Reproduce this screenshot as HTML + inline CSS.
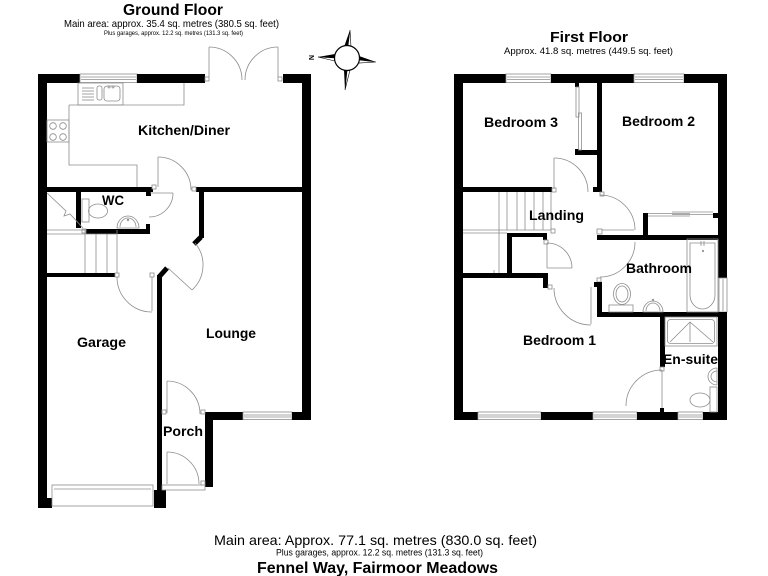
<!DOCTYPE html>
<html>
<head>
<meta charset="utf-8">
<style>
html,body{margin:0;padding:0;background:#fff;}
svg{display:block;}
text{font-family:"Liberation Sans",Arial,sans-serif;fill:#000;}
.b{font-weight:bold;}
.g{fill:none;stroke:#8c8c8c;stroke-width:0.8;}
.gw{fill:#fff;stroke:#8c8c8c;stroke-width:0.8;}
.k{fill:#000;}
</style>
</head>
<body>
<svg width="768" height="576" viewBox="0 0 768 576" xmlns="http://www.w3.org/2000/svg">
<rect width="768" height="576" fill="#fff"/>

<!-- ===== TITLES ===== -->
<text class="b" x="123" y="15" font-size="16" textLength="100" lengthAdjust="spacingAndGlyphs">Ground Floor</text>
<text x="64" y="27" font-size="10.5" textLength="215" lengthAdjust="spacingAndGlyphs">Main area: approx. 35.4 sq. metres (380.5 sq. feet)</text>
<text x="104" y="35" font-size="6" textLength="139" lengthAdjust="spacingAndGlyphs">Plus garages, approx. 12.2 sq. metres (131.3 sq. feet)</text>

<text class="b" x="550" y="42" font-size="15" textLength="78" lengthAdjust="spacingAndGlyphs">First Floor</text>
<text x="504" y="54" font-size="9.5" textLength="169" lengthAdjust="spacingAndGlyphs">Approx. 41.8 sq. metres (449.5 sq. feet)</text>

<text x="214" y="545" font-size="14" textLength="323" lengthAdjust="spacingAndGlyphs">Main area: Approx. 77.1 sq. metres (830.0 sq. feet)</text>
<text x="276" y="555.5" font-size="9" textLength="207" lengthAdjust="spacingAndGlyphs">Plus garages, approx. 12.2 sq. metres (131.3 sq. feet)</text>
<text class="b" x="257" y="573" font-size="16" textLength="241" lengthAdjust="spacingAndGlyphs">Fennel Way, Fairmoor Meadows</text>

<!-- ===== COMPASS ===== -->
<g>
  <polygon points="350,30 344,47 348,46" fill="#000"/>
  <polygon points="350,30 348,46 351,47" fill="#fff" stroke="#000" stroke-width="0.6"/>
  <polygon points="345,90 344,70 347,71" fill="#000"/>
  <polygon points="345,90 347,71 350,70" fill="#fff" stroke="#000" stroke-width="0.6"/>
  <polygon points="318,57 335,54 335,58" fill="#000"/>
  <polygon points="318,57 335,58 335,61" fill="#fff" stroke="#000" stroke-width="0.6"/>
  <polygon points="376,62 359,56 359,60" fill="#000"/>
  <polygon points="376,62 359,60 359,63" fill="#fff" stroke="#000" stroke-width="0.6"/>
  <circle cx="347" cy="58" r="12.5" fill="#fff" stroke="#000" stroke-width="1.2"/>
  <text class="b" x="0" y="0" font-size="7" transform="translate(309,55) rotate(90)">N</text>
</g>

<!-- ===== GROUND FLOOR ===== -->
<!-- top wall -->
<rect class="k" x="38" y="74" width="42" height="9"/>
<rect class="gw" x="80" y="74" width="57" height="8.5"/>
<line class="g" x1="81" y1="77" x2="136" y2="77"/>
<line class="g" x1="81" y1="79.5" x2="136" y2="79.5"/>
<rect class="k" x="137" y="74" width="68" height="9"/>
<rect class="k" x="283" y="74" width="28" height="9"/>
<!-- French doors -->
<rect class="gw" x="205" y="77" width="4" height="4"/>
<rect class="gw" x="278" y="77" width="4" height="4"/>
<line class="g" x1="209" y1="47" x2="209" y2="77"/>
<path class="g" d="M209,47 A33,33 0 0 1 242,80"/>
<line class="g" x1="278" y1="47" x2="278" y2="77"/>
<path class="g" d="M278,47 A33,33 0 0 0 245,80"/>
<!-- outer walls -->
<rect class="k" x="38" y="74" width="9" height="434"/>
<rect class="k" x="47" y="498" width="5" height="10"/>
<rect class="k" x="302" y="74" width="9" height="346"/>
<!-- kitchen worktops -->
<path class="g" d="M69,105 H184 V83"/>
<path class="g" d="M69,105 V165 H137 V187"/>
<rect class="g" x="78" y="83" width="45" height="22"/>
<g class="g">
  <line x1="82" y1="88" x2="94" y2="88"/>
  <line x1="82" y1="91" x2="94" y2="91"/>
  <line x1="82" y1="94" x2="94" y2="94"/>
  <line x1="82" y1="97" x2="94" y2="97"/>
  <line x1="82" y1="100" x2="94" y2="100"/>
  <rect x="97" y="86" width="5" height="14" rx="2"/>
  <rect x="104" y="86" width="16" height="15" rx="3"/>
  <circle cx="109" cy="87" r="1"/>
  <circle cx="113" cy="87" r="1"/>
</g>
<rect class="g" x="47" y="120" width="22" height="22"/>
<g class="g">
  <circle cx="53" cy="126" r="3.3"/>
  <circle cx="63" cy="126" r="3.3"/>
  <circle cx="53" cy="137" r="3.3"/>
  <circle cx="63" cy="137" r="3.3"/>
</g>
<!-- kitchen / hall wall -->
<rect class="k" x="46" y="187" width="107" height="5"/>
<rect class="k" x="146" y="187" width="5" height="9"/>
<rect class="k" x="196" y="187" width="106" height="5"/>
<rect class="gw" x="152" y="185" width="4" height="4"/>
<rect class="gw" x="192" y="187" width="4" height="4"/>
<!-- kitchen door -->
<line class="g" x1="158" y1="157" x2="158" y2="187"/>
<path class="g" d="M158,157 A33,33 0 0 1 191,190"/>
<!-- lounge left wall -->
<rect class="k" x="199" y="190" width="5" height="48"/>
<line x1="201" y1="237" x2="194" y2="244" stroke="#000" stroke-width="5"/>
<!-- lounge door -->
<line class="g" x1="168" y1="268" x2="192" y2="290"/>
<path class="g" d="M192,290 A34,34 0 0 0 195,243"/>
<!-- WC -->
<rect class="k" x="76" y="192" width="5" height="36"/>
<rect class="k" x="86" y="229" width="64" height="5"/>
<rect class="k" x="146" y="224" width="4" height="10"/>
<rect class="gw" x="82" y="229" width="4" height="4"/>
<line class="g" x1="150" y1="193" x2="173" y2="193"/>
<path class="g" d="M173,193 A24,24 0 0 1 149,217"/>
<rect class="g" x="82" y="199" width="7" height="23"/>
<ellipse class="g" cx="98" cy="211" rx="9.5" ry="7"/>
<path class="g" d="M117,228 A11,12 0 0 1 139,228 Z"/>
<path class="g" d="M120,227 A8,9 0 0 1 136,227"/>
<circle class="g" cx="128" cy="220" r="0.8"/>
<text class="b" x="102" y="205" font-size="14" textLength="22" lengthAdjust="spacingAndGlyphs">WC</text>
<!-- ground stairs -->
<polyline class="g" points="47,193 66,211 64,216 70,214 83,228"/>
<line class="g" x1="47" y1="230" x2="85" y2="230"/>
<line class="g" x1="47" y1="234" x2="85" y2="234"/>
<line class="g" x1="85" y1="234" x2="117" y2="234"/>
<line class="g" x1="85" y1="229" x2="85" y2="273"/>
<line class="g" x1="96" y1="234" x2="96" y2="273"/>
<line class="g" x1="107" y1="234" x2="107" y2="273"/>
<line class="g" x1="117" y1="230" x2="117" y2="273"/>
<rect class="k" x="46" y="273" width="69" height="4"/>
<rect class="gw" x="115" y="273" width="4" height="4"/>
<!-- garage/hall door -->
<rect class="gw" x="150" y="273" width="4" height="4"/>
<line class="g" x1="152" y1="277" x2="152" y2="311"/>
<path class="g" d="M117,277 A35,35 0 0 0 152,312"/>
<!-- garage right wall -->
<rect class="k" x="157" y="275" width="5" height="215"/>
<line x1="159" y1="277" x2="167" y2="268" stroke="#000" stroke-width="5"/>
<rect class="k" x="154" y="490" width="12" height="18"/>
<!-- garage door -->
<rect class="gw" x="52" y="485" width="101" height="21"/>
<line class="g" x1="54" y1="489" x2="151" y2="489"/>
<!-- lounge bottom wall -->
<rect class="k" x="205" y="412" width="38" height="8"/>
<rect class="gw" x="243" y="412" width="49" height="7.5"/>
<line class="g" x1="244" y1="415" x2="291" y2="415"/>
<line class="g" x1="244" y1="417" x2="291" y2="417"/>
<rect class="k" x="292" y="412" width="19" height="8"/>
<!-- porch -->
<rect class="k" x="205" y="412" width="8" height="75"/>
<rect class="gw" x="162" y="410" width="4" height="4"/>
<rect class="gw" x="201" y="410" width="4" height="4"/>
<line class="g" x1="167" y1="381" x2="167" y2="413"/>
<path class="g" d="M167,381 A33,33 0 0 1 200,414"/>
<line class="g" x1="167" y1="452" x2="167" y2="484"/>
<path class="g" d="M167,452 A32,32 0 0 1 199,484"/>
<rect class="gw" x="162" y="485" width="43" height="5"/>
<rect class="gw" x="201" y="481" width="4" height="4"/>

<!-- ground labels -->
<text class="b" x="138" y="135" font-size="14" textLength="92" lengthAdjust="spacingAndGlyphs">Kitchen/Diner</text>
<text class="b" x="206" y="338" font-size="14" textLength="50" lengthAdjust="spacingAndGlyphs">Lounge</text>
<text class="b" x="77" y="347" font-size="14" textLength="49" lengthAdjust="spacingAndGlyphs">Garage</text>
<text class="b" x="163" y="436" font-size="14" textLength="40" lengthAdjust="spacingAndGlyphs">Porch</text>

<!-- ===== FIRST FLOOR ===== -->
<!-- top wall -->
<rect class="k" x="454" y="74" width="52" height="9"/>
<rect class="gw" x="506" y="74" width="45" height="8.5"/>
<line class="g" x1="507" y1="77" x2="550" y2="77"/>
<line class="g" x1="507" y1="79.5" x2="550" y2="79.5"/>
<rect class="k" x="551" y="74" width="83" height="9"/>
<rect class="gw" x="634" y="74" width="50" height="8.5"/>
<line class="g" x1="635" y1="77" x2="683" y2="77"/>
<line class="g" x1="635" y1="79.5" x2="683" y2="79.5"/>
<rect class="k" x="684" y="74" width="43" height="9"/>
<!-- outer walls -->
<rect class="k" x="454" y="74" width="9" height="346"/>
<rect class="k" x="718" y="74" width="9" height="204"/>
<rect class="gw" x="719" y="278" width="8" height="34"/>
<line class="g" x1="723" y1="279" x2="723" y2="311"/>
<rect class="k" x="718" y="312" width="9" height="108"/>
<!-- bottom wall -->
<rect class="k" x="454" y="412" width="24" height="8"/>
<rect class="gw" x="478" y="412" width="63" height="7.5"/>
<line class="g" x1="479" y1="415" x2="540" y2="415"/>
<line class="g" x1="479" y1="417" x2="540" y2="417"/>
<rect class="k" x="541" y="412" width="52" height="8"/>
<rect class="gw" x="593" y="412" width="44" height="7.5"/>
<line class="g" x1="594" y1="415" x2="636" y2="415"/>
<line class="g" x1="594" y1="417" x2="636" y2="417"/>
<rect class="k" x="637" y="412" width="41" height="8"/>
<rect class="gw" x="678" y="412" width="25" height="7.5"/>
<line class="g" x1="679" y1="415" x2="702" y2="415"/>
<line class="g" x1="679" y1="417" x2="702" y2="417"/>
<rect class="k" x="703" y="412" width="24" height="8"/>

<!-- bedroom 2/3 wall & wardrobe -->
<rect class="k" x="597" y="83" width="5" height="109"/>
<rect class="k" x="593" y="187" width="5" height="5"/>
<rect class="k" x="575" y="83" width="4" height="4"/>
<rect class="k" x="575" y="149" width="4" height="6"/>
<rect class="k" x="575" y="150" width="22" height="5"/>
<rect class="g" x="576" y="87" width="3" height="30"/>
<rect class="g" x="578.5" y="113" width="3" height="37"/>
<!-- bedroom 3 bottom wall -->
<rect class="k" x="463" y="187" width="89" height="5"/>
<rect class="gw" x="552" y="188" width="4" height="4"/>
<!-- bedroom 3 door -->
<line class="g" x1="554" y1="158" x2="554" y2="189"/>
<path class="g" d="M554,158 A34,34 0 0 1 588,192"/>
<!-- bedroom 2 door -->
<rect class="gw" x="600" y="192" width="4" height="4"/>
<line class="g" x1="600" y1="230" x2="634" y2="230"/>
<path class="g" d="M600,195 A35,35 0 0 1 635,230"/>
<!-- bathroom door -->
<path class="g" d="M635,242 A35,35 0 0 1 600,277"/>
<rect class="gw" x="597" y="229" width="5" height="5"/>
<rect class="gw" x="597" y="278" width="4" height="4"/>
<!-- linen cupboard -->
<rect class="k" x="643" y="213" width="5" height="22"/>
<rect class="k" x="713" y="213" width="5" height="5"/>
<line class="g" x1="648" y1="213.5" x2="690" y2="213.5"/>
<line class="g" x1="648" y1="216" x2="690" y2="216"/>
<line class="g" x1="672" y1="212" x2="713" y2="212"/>
<line class="g" x1="672" y1="214.5" x2="713" y2="214.5"/>
<!-- bathroom walls -->
<rect class="k" x="597" y="235" width="121" height="5"/>
<rect class="k" x="597" y="282" width="5" height="35"/>
<rect class="k" x="594" y="282" width="6" height="5"/>
<rect class="k" x="597" y="312" width="121" height="5"/>
<!-- stairs -->
<g class="g">
  <line x1="499" y1="192" x2="499" y2="273"/>
  <line x1="507" y1="192" x2="507" y2="230"/>
  <line x1="517" y1="192" x2="517" y2="230"/>
  <line x1="525" y1="192" x2="525" y2="230"/>
  <line x1="534" y1="192" x2="534" y2="230"/>
  <line x1="543" y1="192" x2="543" y2="230"/>
  <line x1="551" y1="192" x2="551" y2="230"/>
  <line x1="463" y1="230" x2="553" y2="230"/>
  <line x1="463" y1="233" x2="507" y2="233"/>
  <line x1="494" y1="270" x2="494" y2="273"/>
</g>
<rect class="gw" x="551" y="229" width="4" height="4"/>
<!-- landing cupboard -->
<rect class="k" x="507" y="233" width="40" height="4"/>
<rect class="k" x="507" y="233" width="5" height="42"/>
<rect class="k" x="543" y="233" width="4" height="7"/>
<rect class="gw" x="544" y="240" width="4" height="4"/>
<line class="g" x1="547" y1="243" x2="547" y2="268"/>
<line class="g" x1="547" y1="268" x2="572" y2="268"/>
<path class="g" d="M547,243 A25,25 0 0 1 572,268"/>
<!-- bedroom 1 top wall -->
<rect class="k" x="463" y="273" width="84" height="5"/>
<rect class="k" x="543" y="273" width="5" height="15"/>
<rect class="gw" x="548" y="285" width="4" height="4"/>
<!-- bedroom 1 door -->
<line class="g" x1="591" y1="287" x2="591" y2="324"/>
<path class="g" d="M554,288 A37,37 0 0 0 591,325"/>
<!-- en-suite wall -->
<rect class="k" x="660" y="313" width="5" height="54"/>
<rect class="k" x="660" y="408" width="4" height="5"/>
<rect class="gw" x="660" y="367" width="4" height="4"/>
<line class="g" x1="662" y1="370" x2="662" y2="408"/>
<path class="g" d="M662,370 A36,36 0 0 0 626,406"/>

<!-- bathroom fixtures -->
<rect class="g" x="687" y="239" width="31" height="73"/>
<path class="g" d="M690,243 H715 V295 A12.5,14 0 0 1 690,295 Z"/>
<line class="g" x1="701" y1="241" x2="701" y2="246"/>
<line class="g" x1="704" y1="241" x2="704" y2="246"/>
<circle class="g" cx="703" cy="251" r="0.7"/>
<ellipse class="g" cx="622" cy="294" rx="8.5" ry="10.5"/>
<ellipse class="g" cx="622" cy="294" rx="6" ry="8"/>
<rect class="g" x="609" y="305" width="24" height="7"/>
<path class="g" d="M643,312 A10,11 0 0 1 663,312 Z"/>
<path class="g" d="M646,311 A7,8 0 0 1 660,311"/>
<circle class="g" cx="653" cy="300" r="0.8"/>

<!-- en-suite fixtures -->
<rect class="g" x="665" y="317" width="52" height="29"/>
<rect class="g" x="667.5" y="319.5" width="47" height="24" rx="3"/>
<polyline class="g" points="670,342 690,322 713,342"/>
<line class="g" x1="690" y1="322" x2="690" y2="342"/>
<path class="g" d="M717,368 A9,8.5 0 0 0 717,385 Z"/>
<path class="g" d="M717,371 A6,5.5 0 0 0 717,382"/>
<rect class="g" x="710" y="387" width="7" height="25"/>
<ellipse class="g" cx="700" cy="400" rx="10" ry="7"/>

<!-- first floor labels -->
<text class="b" x="484" y="127" font-size="14" textLength="74" lengthAdjust="spacingAndGlyphs">Bedroom 3</text>
<text class="b" x="622" y="126" font-size="14" textLength="73" lengthAdjust="spacingAndGlyphs">Bedroom 2</text>
<text class="b" x="529" y="220" font-size="14" textLength="55" lengthAdjust="spacingAndGlyphs">Landing</text>
<text class="b" x="626" y="273" font-size="14" textLength="66" lengthAdjust="spacingAndGlyphs">Bathroom</text>
<text class="b" x="523" y="345" font-size="14" textLength="73" lengthAdjust="spacingAndGlyphs">Bedroom 1</text>
<text class="b" x="663" y="364" font-size="14" textLength="55" lengthAdjust="spacingAndGlyphs">En-suite</text>
</svg>
</body>
</html>
